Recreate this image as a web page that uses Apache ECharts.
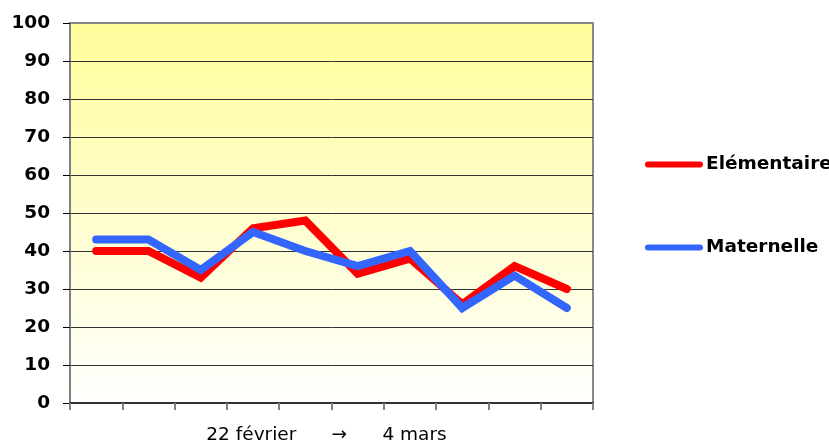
<!DOCTYPE html>
<html>
<head>
<meta charset="utf-8">
<script src="https://cdn.jsdelivr.net/npm/echarts@6/dist/echarts.min.js"></script>
<style>
html,body{margin:0;padding:0;background:#fff;}
#chart{width:829px;height:444px;}
</style>
</head>
<body>
<div id="chart"></div>
<script>
var categories = ['1','2','3','4','5','6','7','8','9','10'];
var elementaire = [40, 40, 33, 46, 48, 34, 38, 26, 36, 30];
var maternelle  = [43, 43, 35, 45, 40, 36, 40, 25, 33.5, 25];
var seriesNames = ['Elémentaire', 'Maternelle'];
var axisTitle = '22 février      →      4 mars';

var chart = echarts.init(document.getElementById('chart'), null, {renderer:'canvas'});
var capsule = 'path://M3,0 L55,0 A3,3 0 0 1 55,6 L3,6 A3,3 0 0 1 3,0 Z';
chart.setOption({
  animation: false,
  backgroundColor: '#ffffff',
  grid: {
    left: 70, right: 236, top: 23, bottom: 41,
    outerBoundsMode: 'none',
    containLabel: false,
    show: true,
    borderColor: '#888888',
    borderWidth: 2,
    backgroundColor: {
      type: 'linear', x: 0, y: 0, x2: 0, y2: 1,
      colorStops: [
        {offset: 0, color: '#FFFD99'},
        {offset: 1, color: '#FFFFFF'}
      ]
    }
  },
  legend: {
    orient: 'vertical',
    left: 640,
    top: 150,
    itemGap: 64,
    itemWidth: 58,
    itemHeight: 6,
    icon: capsule,
    data: seriesNames,
    textStyle: {
      fontFamily: 'DejaVu Sans',
      fontWeight: 'bold',
      fontSize: 18.5,
      color: '#000',
      padding: [0, 0, 0, -2]
    }
  },
  xAxis: {
    type: 'category',
    data: categories,
    boundaryGap: true,
    name: axisTitle,
    nameLocation: 'middle',
    nameGap: 23,
    nameTextStyle: {
      fontFamily: 'DejaVu Sans',
      fontSize: 18.5,
      color: '#000',
      padding: [0, 10, 0, 0]
    },
    axisLine: {show: true, lineStyle: {color: '#333', width: 2}},
    axisTick: {show: true, length: 7, lineStyle: {color: '#808080', width: 2}},
    axisLabel: {show: false},
    splitLine: {show: false}
  },
  yAxis: {
    type: 'value',
    min: 0, max: 100, interval: 10,
    axisLine: {show: true, lineStyle: {color: '#808080', width: 2}},
    axisTick: {show: true, length: 7, lineStyle: {color: '#000', width: 1}},
    axisLabel: {
      margin: 20,
      fontFamily: 'DejaVu Sans',
      fontWeight: 'bold',
      fontSize: 18.5,
      color: '#000'
    },
    splitLine: {
      show: true,
      showMinLine: false,
      showMaxLine: false,
      lineStyle: {color: '#333', width: 1}
    }
  },
  series: [
    {
      name: seriesNames[0],
      type: 'line',
      data: elementaire,
      showSymbol: false,
      symbol: 'none',
      color: '#FF0000',
      lineStyle: {color: '#FF0000', width: 8, cap: 'round', join: 'miter'}
    },
    {
      name: seriesNames[1],
      type: 'line',
      data: maternelle,
      showSymbol: false,
      symbol: 'none',
      color: '#3366FF',
      lineStyle: {color: '#3366FF', width: 8, cap: 'round', join: 'miter'}
    }
  ]
});
</script>
</body>
</html>
